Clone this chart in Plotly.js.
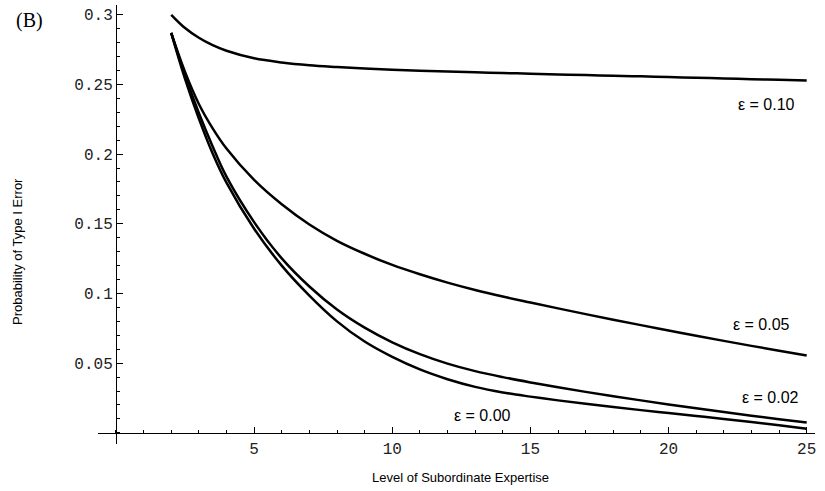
<!DOCTYPE html>
<html>
<head>
<meta charset="utf-8">
<script src="https://cdn.plot.ly/plotly-3.0.1.min.js"></script>
<style>html,body{margin:0;padding:0;background:#fff;}#chart{width:825px;height:491px;}</style>
</head>
<body>
<div id="chart"></div>
<script>
// Level of subordinate expertise
const expertise = [2,2.5,3,3.5,4,5,6,7,8,9,10,11,12,13,14,15,16,17,18,19,20,21,22,23,24,25];
// Probability of Type I error for each epsilon
const eps010 = [0.300,0.2905,0.2835,0.2782,0.2742,0.2688,0.2658,0.2638,0.2625,0.2614,0.2605,0.2598,0.2592,0.2587,0.2582,0.2577,0.2572,0.2567,0.2563,0.2558,0.2553,0.2548,0.2543,0.2538,0.2533,0.2528];
const eps005 = [0.287,0.259,0.236,0.2185,0.204,0.1815,0.164,0.1495,0.1378,0.1285,0.1205,0.1138,0.1078,0.1025,0.0978,0.0935,0.0893,0.0852,0.0812,0.0773,0.0735,0.0697,0.0660,0.0624,0.0589,0.0555];
const eps002 = [0.287,0.2565,0.2295,0.2055,0.1838,0.1512,0.1252,0.1050,0.0885,0.0755,0.0650,0.0565,0.0497,0.0443,0.0400,0.0362,0.0327,0.0294,0.0263,0.0233,0.0204,0.0176,0.0149,0.0123,0.0098,0.0074];
const eps000 = [0.287,0.254,0.2255,0.2005,0.1795,0.1465,0.1200,0.0985,0.0800,0.0655,0.0545,0.0455,0.0385,0.0330,0.0290,0.0260,0.0233,0.0208,0.0185,0.0163,0.0142,0.0121,0.0100,0.0078,0.0055,0.0030];
const seriesNames = ["ε = 0.10","ε = 0.05","ε = 0.02","ε = 0.00"];
const xTicks = [5,10,15,20,25];
const yTicks = [0.05,0.1,0.15,0.2,0.25,0.3];
const yTickText = ["0.05","0.1","0.15","0.2","0.25","0.3"];
const xTitle = "Level of Subordinate Expertise";
const yTitle = "Probability of Type I Error";
const panelLabel = "(B)";

const allSeries = [eps010, eps005, eps002, eps000];
const traces = allSeries.map((ys, i) => ({
  x: expertise, y: ys, type: 'scatter', mode: 'lines', name: seriesNames[i],
  line: {color: '#000', width: 2.5, shape: 'spline', smoothing: 1},
  hoverinfo: 'skip'
}));

// label anchor points (data coordinates)
const labelAt = [[23.55,0.2354],[23.37,0.0775],[23.69,0.0251],[13.26,0.0122]];
const annotations = seriesNames.map((t, i) => ({
  x: labelAt[i][0], y: labelAt[i][1], xref: 'x', yref: 'y', text: t, showarrow: false,
  xanchor: 'center', yanchor: 'middle',
  font: {family: 'Liberation Sans, Arial, sans-serif', size: 16, color: '#000'}
}));
annotations.push({x: 0.505, y: -0.0774, xref: 'paper', yref: 'paper', text: xTitle, showarrow: false,
  xanchor: 'center', yanchor: 'middle', font: {family: 'Liberation Sans, Arial, sans-serif', size: 13, color: '#000'}});
annotations.push({x: -0.113, y: 0.4396, xref: 'paper', yref: 'paper', text: yTitle, showarrow: false, textangle: -90,
  xanchor: 'center', yanchor: 'middle', font: {family: 'Liberation Sans, Arial, sans-serif', size: 13, color: '#000'}});
annotations.push({x: -0.0962, y: 0.9658, xref: 'paper', yref: 'paper', text: panelLabel, showarrow: false,
  xanchor: 'center', yanchor: 'middle', font: {family: 'Liberation Serif, Times New Roman, serif', size: 20, color: '#000'}});

const layout = {
  width: 825, height: 491,
  margin: {l: 98, r: 10, t: 5, b: 47},
  paper_bgcolor: '#fff', plot_bgcolor: '#fff',
  showlegend: false,
  xaxis: {
    range: [-0.65, 25.3], anchor: 'free', position: 0.0254,
    showgrid: false, zeroline: false, showline: true, linecolor: '#000', linewidth: 1.5,
    ticks: 'inside', ticklen: 6, tickwidth: 1, tickcolor: '#000',
    tickvals: xTicks, ticktext: xTicks.map(String),
    minor: {ticks: 'inside', dtick: 1, tick0: 0, ticklen: 3, tickcolor: '#000', showgrid: false},
    tickfont: {family: 'Liberation Mono, Courier New, monospace', size: 16, color: '#222'}
  },
  yaxis: {
    range: [-0.008, 0.307], anchor: 'free', position: 0.02505,
    showgrid: false, zeroline: false, showline: true, linecolor: '#000', linewidth: 1.5,
    ticks: 'inside', ticklen: 6, tickwidth: 1, tickcolor: '#000',
    tickvals: yTicks, ticktext: yTickText,
    minor: {ticks: 'inside', dtick: 0.01, tick0: 0, ticklen: 3, tickcolor: '#000', showgrid: false},
    tickfont: {family: 'Liberation Mono, Courier New, monospace', size: 16, color: '#222'}
  },
  annotations: annotations
};
Plotly.newPlot('chart', traces, layout, {staticPlot: true, displayModeBar: false});
</script>
</body>
</html>
